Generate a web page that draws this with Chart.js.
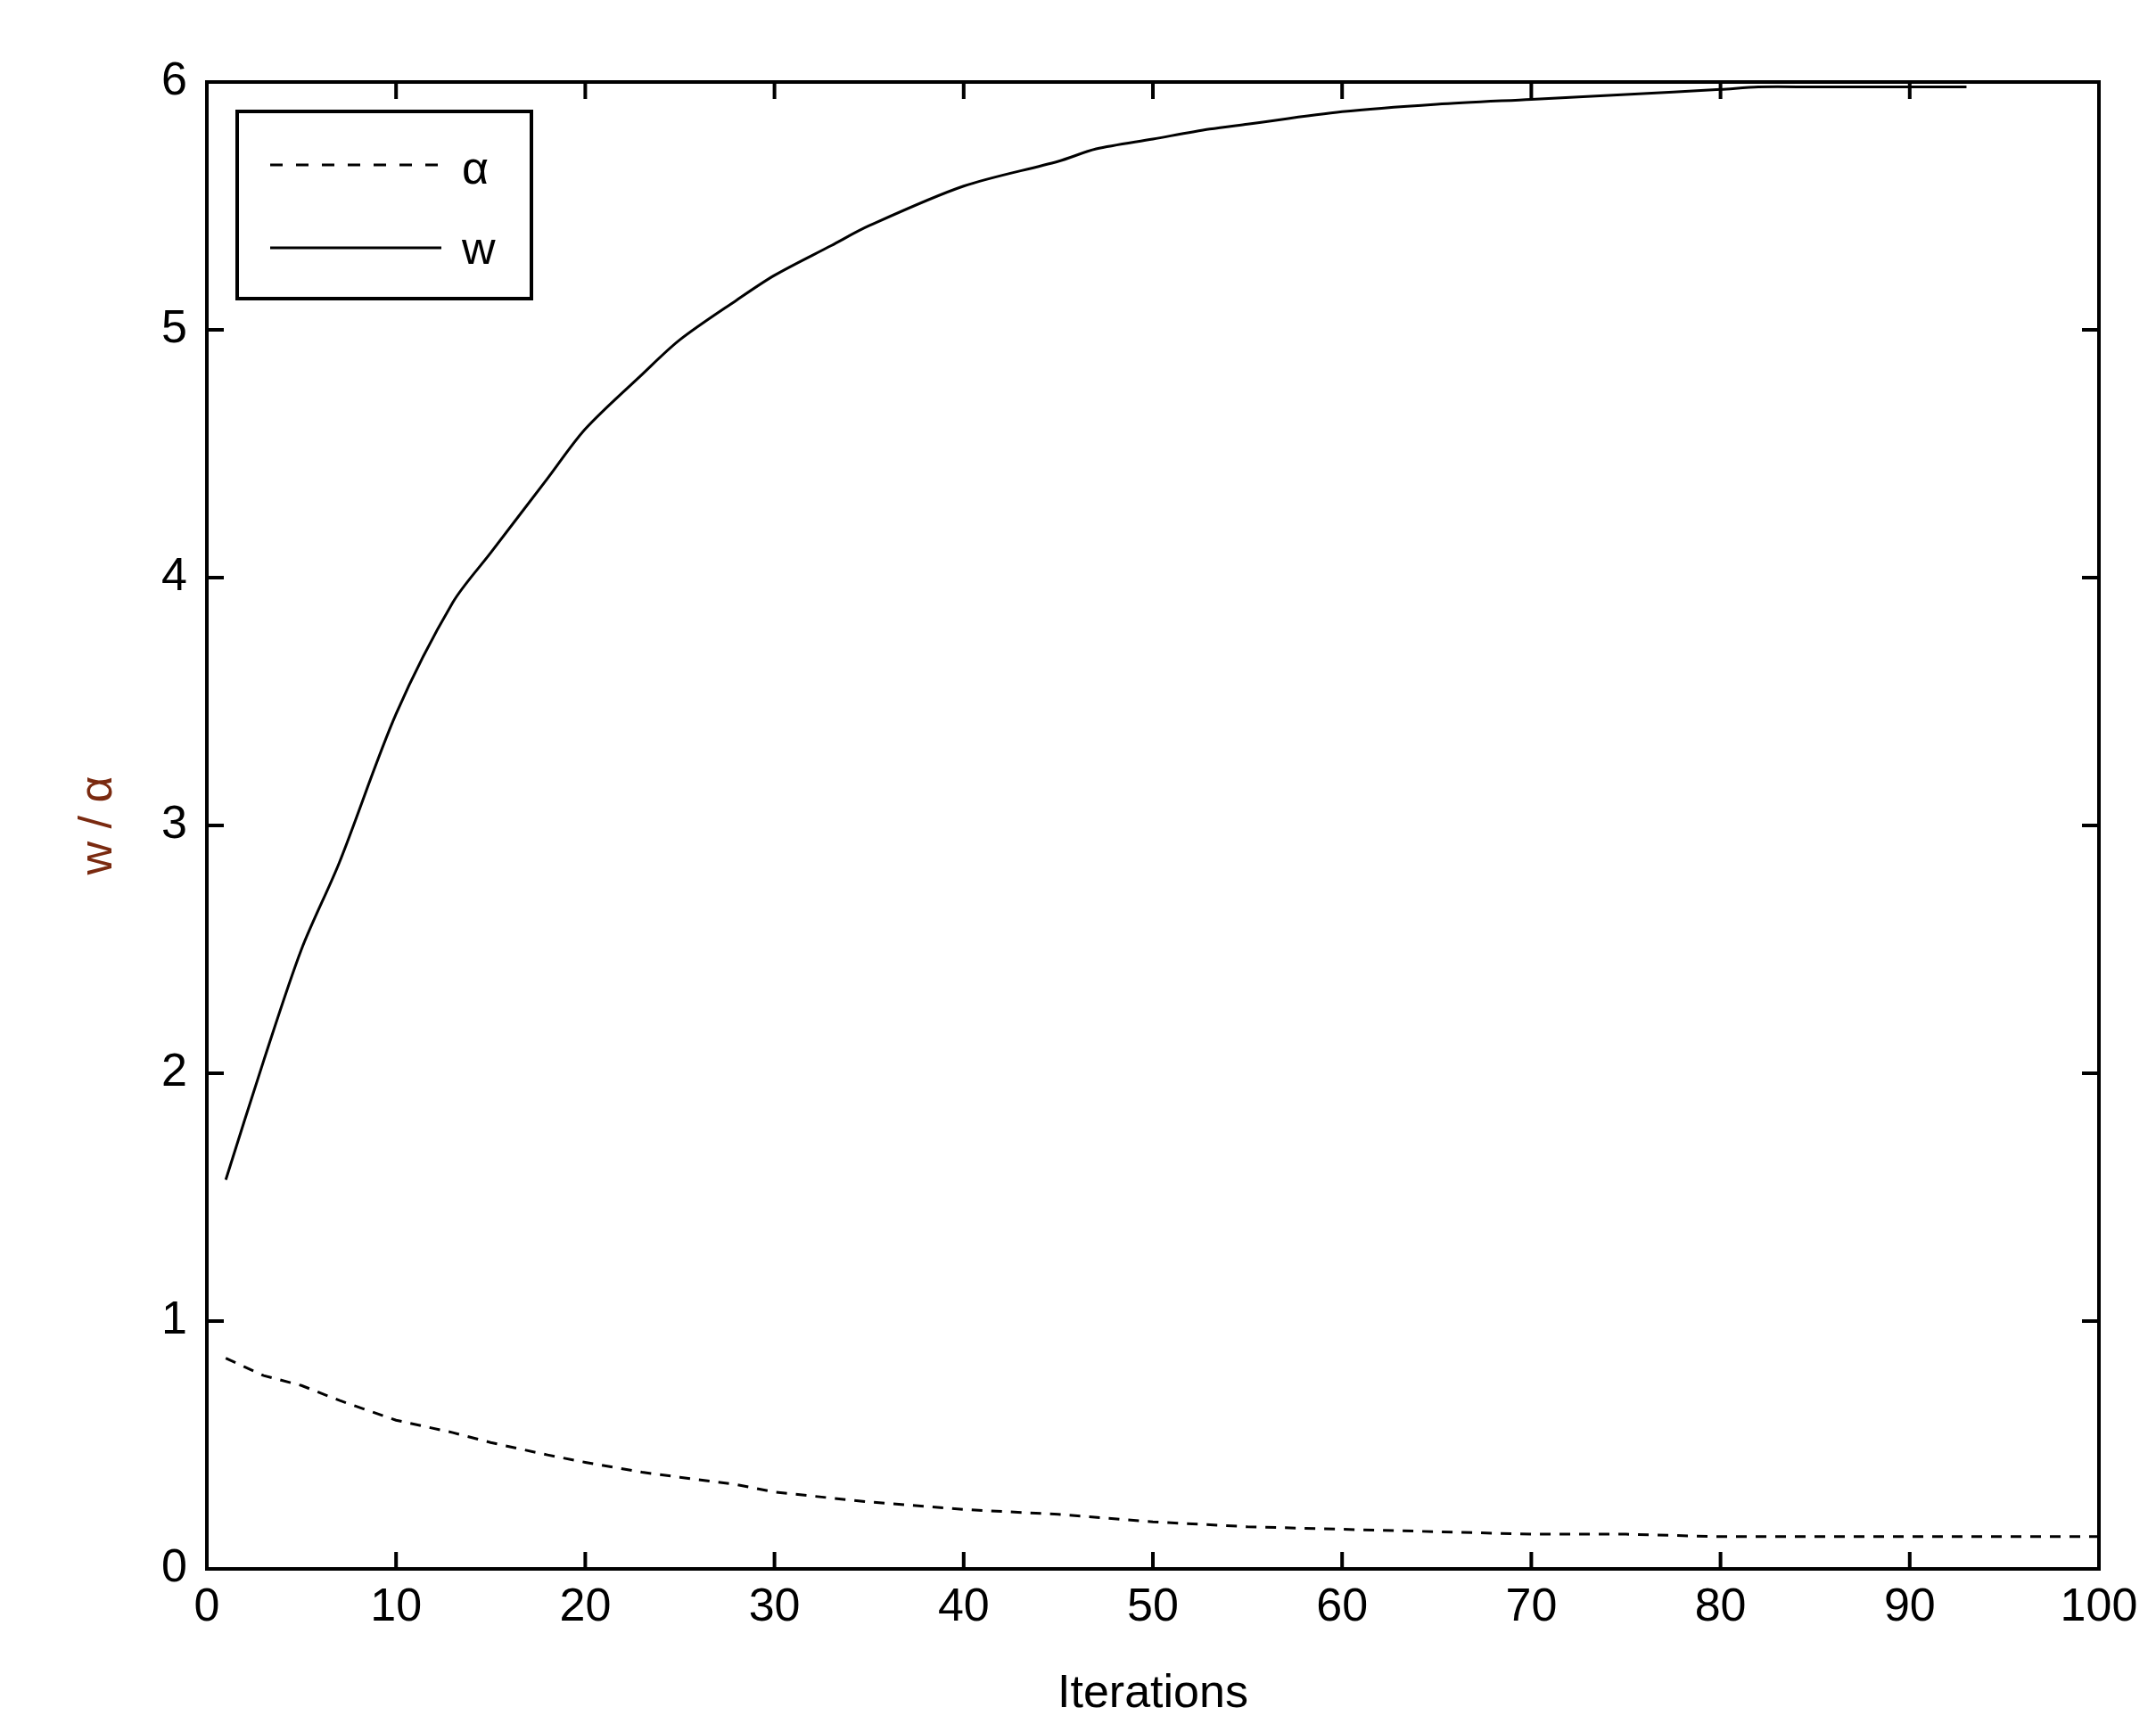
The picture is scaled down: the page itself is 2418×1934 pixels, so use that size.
<!DOCTYPE html>
<html>
<head>
<meta charset="utf-8">
<script src="https://cdn.jsdelivr.net/npm/chart.js@4.4.1/dist/chart.umd.min.js"></script>
<style>
  html, body { margin: 0; padding: 0; background: #fff; }
  #wrap { width: 2418px; height: 1934px; }
</style>
</head>
<body>
<div id="wrap"><canvas id="c"></canvas></div>
<script>
// values
const iterW = [1, 3, 5, 7, 10, 13, 15, 18, 20, 23, 25, 28, 30, 33, 35, 40, 45, 47, 50, 53, 55, 60, 65, 70, 75, 80, 82, 85, 90, 93];
const wValues = [1.57, 2.05, 2.5, 2.85, 3.45, 3.9, 4.1, 4.4, 4.6, 4.82, 4.96, 5.12, 5.22, 5.34, 5.42, 5.58, 5.68, 5.73, 5.77, 5.81, 5.83, 5.88, 5.91, 5.93, 5.95, 5.97, 5.98, 5.98, 5.98, 5.98];
const iterAlpha = [1, 3, 5, 7, 10, 13, 15, 18, 20, 23, 25, 28, 30, 35, 40, 45, 50, 55, 60, 65, 70, 75, 80, 90, 100];
const alphaValues = [0.85, 0.78, 0.74, 0.68, 0.6, 0.55, 0.51, 0.46, 0.43, 0.39, 0.37, 0.34, 0.31, 0.27, 0.24, 0.22, 0.19, 0.17, 0.16, 0.15, 0.14, 0.14, 0.13, 0.13, 0.13];
const xTicks = [0, 10, 20, 30, 40, 50, 60, 70, 80, 90, 100];
const yTicks = [0, 1, 2, 3, 4, 5, 6];

const FONT = '"Liberation Sans", Arial, sans-serif';

const frame = {
  id: 'frame',
  afterDatasetsDraw(chart) {
    const ctx = chart.ctx, a = chart.chartArea;
    const xs = chart.scales.x, ys = chart.scales.y;
    ctx.save();
    ctx.strokeStyle = '#000';
    ctx.fillStyle = '#000';
    ctx.lineWidth = 4;
    ctx.strokeRect(a.left, a.top, a.right - a.left, a.bottom - a.top);
    const tl = 19;
    ctx.font = '52px ' + FONT;
    ctx.textAlign = 'center';
    ctx.textBaseline = 'top';
    xTicks.forEach(v => {
      const x = xs.getPixelForValue(v);
      ctx.beginPath();
      ctx.moveTo(x, a.bottom); ctx.lineTo(x, a.bottom - tl);
      ctx.moveTo(x, a.top); ctx.lineTo(x, a.top + tl);
      ctx.stroke();
      ctx.fillText(String(v), x, a.bottom + 18);
    });
    ctx.textAlign = 'right';
    ctx.textBaseline = 'middle';
    yTicks.forEach(v => {
      const y = ys.getPixelForValue(v);
      ctx.beginPath();
      ctx.moveTo(a.left, y); ctx.lineTo(a.left + tl, y);
      ctx.moveTo(a.right, y); ctx.lineTo(a.right - tl, y);
      ctx.stroke();
      ctx.fillText(String(v), a.left - 22, y);
    });
    // axis titles
    ctx.textAlign = 'center';
    ctx.textBaseline = 'alphabetic';
    ctx.fillText('Iterations', (a.left + a.right) / 2, 1915);
    ctx.save();
    ctx.translate(125, (a.top + a.bottom) / 2);
    ctx.rotate(-Math.PI / 2);
    ctx.fillStyle = '#7a2a10';
    ctx.fillText('w / \u03b1', 0, 0);
    ctx.restore();
    // legend box
    ctx.fillStyle = '#fff';
    ctx.fillRect(266, 125, 330, 210);
    ctx.strokeRect(266, 125, 330, 210);
    ctx.lineWidth = 3;
    ctx.setLineDash([14, 15]);
    ctx.beginPath(); ctx.moveTo(303, 185); ctx.lineTo(495, 185); ctx.stroke();
    ctx.setLineDash([]);
    ctx.beginPath(); ctx.moveTo(303, 278); ctx.lineTo(495, 278); ctx.stroke();
    ctx.fillStyle = '#000';
    ctx.textAlign = 'left';
    ctx.textBaseline = 'middle';
    ctx.fillText('\u03b1', 518, 192);
    ctx.fillText('w', 518, 282);
    ctx.restore();
  }
};

new Chart(document.getElementById('c'), {
  type: 'line',
  data: {
    datasets: [
      { label: '\u03b1', data: iterAlpha.map((x, i) => ({ x, y: alphaValues[i] })), borderColor: '#000', borderWidth: 3, borderDash: [12, 10], pointRadius: 0, tension: 0 },
      { label: 'w', data: iterW.map((x, i) => ({ x, y: wValues[i] })), borderColor: '#000', borderWidth: 3, pointRadius: 0, tension: 0.3 }
    ]
  },
  options: {
    responsive: true,
    maintainAspectRatio: false,
    animation: false,
    devicePixelRatio: 1,
    layout: { padding: { left: 232, right: 64, top: 92, bottom: 174 } },
    plugins: { legend: { display: false }, tooltip: { enabled: false } },
    scales: {
      x: { type: 'linear', min: 0, max: 100, display: false },
      y: { type: 'linear', min: 0, max: 6, display: false }
    }
  },
  plugins: [frame]
});
</script>
</body>
</html>
